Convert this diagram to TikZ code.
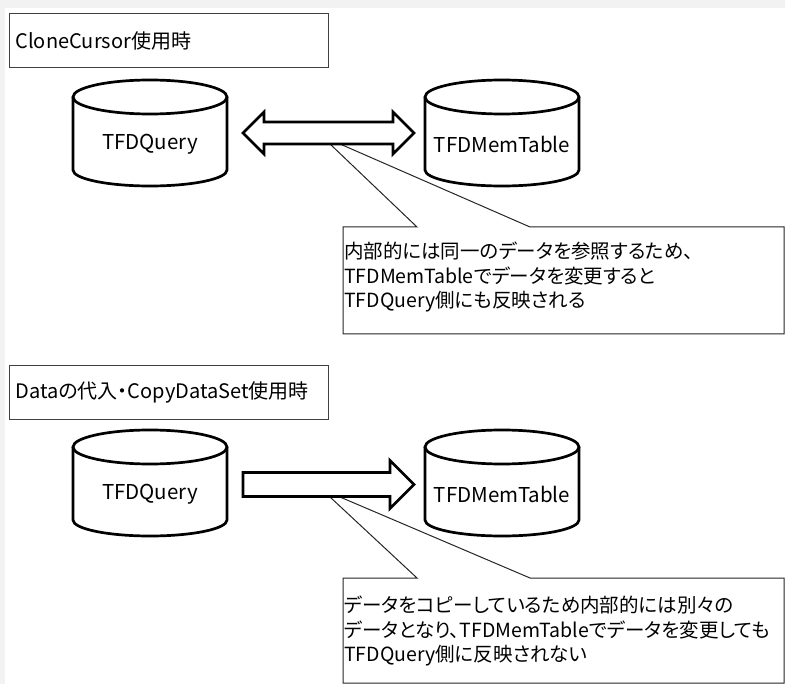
\documentclass[tikz,border=0pt]{standalone}
\usepackage{fontspec}
\setmainfont{Noto Sans CJK JP}[RawFeature=+palt]
\begin{document}
\begin{tikzpicture}[x=1pt,y=1pt,
titlebox/.style={draw=black!75,line width=1.1pt,minimum height=54pt,text width=307pt,inner xsep=6pt,inner ysep=0pt,align=left,anchor=north west,font=\fontsize{20}{24}\selectfont},
dbline/.style={line width=2.7pt},
dbtext/.style={font=\fontsize{20.5}{24}\selectfont},
bigarrow/.style={draw,line width=2.7pt,fill=white,line join=miter},
callout/.style={draw=black!85,line width=1pt},
notetext/.style={align=left,anchor=west,inner sep=0pt,font=\fontsize{19.5}{24.5}\selectfont}]
\useasboundingbox(0,0)rectangle(785,-684);
\fill[black!5](0,0)rectangle(785,-684);
\fill[white](5,-8)rectangle(785,-684);
\node[titlebox](t1) at (9,-13){CloneCursor使用時};
\node[titlebox](t2) at (9,-365){Dataの代入・CopyDataSet使用時};
\foreach \cx/\ty in {150/79,502/79,150/429,502/429}
{
    \draw[dbline](\cx-77,-\ty-18)--(\cx-77,-\ty-91)arc[start angle=180,end angle=360,x radius=77,y radius=16]--(\cx+77,-\ty-18);
    \draw[dbline](\cx,-\ty-18) ellipse[x radius=77,y radius=17];
}
\node[dbtext](q1) at (150,-144){TFDQuery};
\node[dbtext](m1) at (502,-144){TFDMemTable};
\node[dbtext](q2) at (150,-494){TFDQuery};
\node[dbtext](m2) at (502,-494){TFDMemTable};
\draw[callout](343,-227)--(417,-227)--(330,-144)--(340,-144)--(530,-227)--(784,-227)--(784,-334)--(343,-334)--cycle;
\draw[callout](343,-578)--(417,-578)--(330,-497)--(340,-497)--(530,-578)--(784,-578)--(784,-683)--(343,-683)--cycle;
\coordinate (a1s) at (243,-133);
\coordinate (a1e) at (414,-133);
\draw[bigarrow](a1s)--++(21,21)--++(0,-10)--++(129,0)--++(0,10)--(a1e)--++(-21,-21)--++(0,10)--++(-129,0)--++(0,-10)--cycle;
\coordinate (a2s) at (243,-484.5);
\coordinate (a2e) at (414,-484.5);
\draw[bigarrow](a2s)--++(0,12)--++(147,0)--++(0,12)--(a2e)--++(-24,-24)--++(0,12)--++(-147,0)--cycle;
\node[notetext](n1) at (344,-277){内部的には同一のデータを参照するため、\\TFDMemTableでデータを変更すると\\TFDQuery側にも反映される};
\node[notetext](n2) at (344,-631){データをコピーしているため内部的には別々の\\データとなり、TFDMemTableでデータを変更しても\\TFDQuery側に反映されない};
\end{tikzpicture}
\end{document}
